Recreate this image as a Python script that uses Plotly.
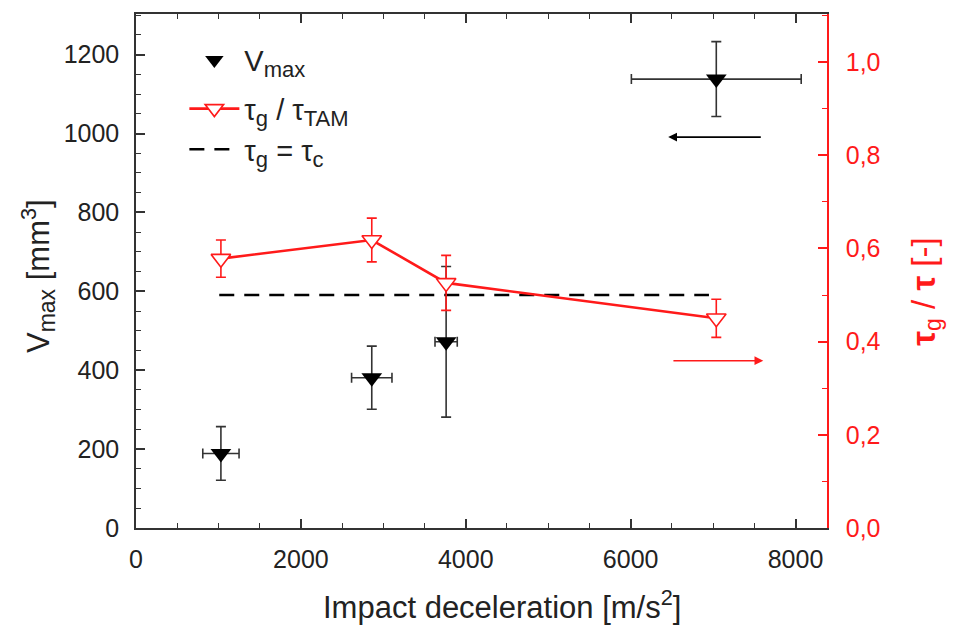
import plotly.graph_objects as go

# ---------------- data ----------------
accel = [1030, 2860, 3762, 7039]              # impact deceleration [m/s^2]
accel_err = [220, 245, 135, 1030]

vmax = [189, 381, 472, 1138]                  # V_max [mm^3]
vmax_err = [68, 80, 191, 95]

tau_ratio = [0.578, 0.618, 0.526, 0.450]      # tau_g / tau_TAM [-]
tau_ratio_err = [0.040, 0.047, 0.059, 0.041]

tau_c_x = [1010, 6950]                        # tau_g = tau_c reference line
tau_c_y = [0.5, 0.5]

x_ticks = [0, 2000, 4000, 6000, 8000]
y1_ticks = [0, 200, 400, 600, 800, 1000, 1200]
y2_ticks = [0.0, 0.2, 0.4, 0.6, 0.8, 1.0]

# arrows (tail -> head), in data units
arrow_black = dict(x_tail=7597, x_head=6456, y=991)
arrow_red = dict(x_tail=6501, x_head=7609, y=0.359)

FONT = "Liberation Sans, Arial, sans-serif"
RED = "#ff1a1a"
DARK = "#222222"


def sub(t, px=22):
    return f"<sub><span style='font-size:{px}px'>{t}</span></sub>"


fig = go.Figure()

fig.add_trace(go.Scatter(
    x=accel, y=vmax, mode="markers", name="V" + sub("max"),
    legendrank=1, legendgroup="a",
    marker=dict(symbol="triangle-down", size=18, color="black"),
    error_y=dict(type="data", array=vmax_err, color="#333333", thickness=1.6, width=5),
    error_x=dict(type="data", array=accel_err, color="#333333", thickness=1.6, width=5),
    yaxis="y",
))

fig.add_trace(go.Scatter(
    x=tau_c_x, y=tau_c_y, mode="lines", name="τ" + sub("g") + " = τ" + sub("c"),
    legendrank=3, legendgroup="b",
    line=dict(color="black", width=2.6, dash="15px,10px"),
    yaxis="y2",
))

fig.add_trace(go.Scatter(
    x=accel, y=tau_ratio, mode="lines+markers", name="τ" + sub("g") + " / τ" + sub("TAM"),
    legendrank=2, legendgroup="b",
    line=dict(color=RED, width=2.6),
    marker=dict(symbol="triangle-down", size=17, color="white",
                line=dict(color=RED, width=1.6)),
    error_y=dict(type="data", array=tau_ratio_err, color=RED, thickness=1.6, width=5),
    yaxis="y2",
))

fig.add_annotation(x=arrow_black["x_head"], y=arrow_black["y"], ax=arrow_black["x_tail"],
                   ay=arrow_black["y"], xref="x", yref="y", axref="x", ayref="y",
                   showarrow=True, arrowhead=2, arrowsize=1.1, arrowwidth=1.6,
                   arrowcolor="black", text="")
fig.add_annotation(x=arrow_red["x_head"], y=arrow_red["y"], ax=arrow_red["x_tail"],
                   ay=arrow_red["y"], xref="x", yref="y2", axref="x", ayref="y2",
                   showarrow=True, arrowhead=2, arrowsize=1.1, arrowwidth=1.6,
                   arrowcolor=RED, text="")

# axis titles as annotations (pixel-accurate placement)
fig.add_annotation(text="Impact deceleration [m/s<sup>2</sup>]", xref="paper", yref="paper",
                   x=0.53, y=-0.15, showarrow=False, yanchor="middle", xanchor="center",
                   font=dict(family=FONT, size=31, color=DARK))
fig.add_annotation(text="V" + sub("max", 23) + " [mm<sup>3</sup>]", xref="paper", yref="paper",
                   x=-0.142, y=0.49, showarrow=False, textangle=-90,
                   xanchor="center", yanchor="middle",
                   font=dict(family=FONT, size=31, color=DARK))
fig.add_annotation(text="<b>τ</b><sub>g</sub> / <b>τ</b> [-]", xref="paper", yref="paper",
                   x=1.142, y=0.46, showarrow=False, textangle=-90,
                   xanchor="center", yanchor="middle",
                   font=dict(family=FONT, size=33, color=RED))

fig.update_layout(
    width=976, height=626,
    margin=dict(l=136, r=149, t=12, b=98),
    paper_bgcolor="white", plot_bgcolor="white",
    separators=",.",
    font=dict(family=FONT, size=25, color=DARK),
    showlegend=True,
    legend=dict(x=0.07, y=0.96, xanchor="left", yanchor="top",
                bgcolor="rgba(0,0,0,0)", font=dict(family=FONT, size=29, color=DARK),
                traceorder="grouped", tracegroupgap=8, itemwidth=50),
    xaxis=dict(range=[0, 8382], tickvals=x_ticks, ticks="inside", ticklen=9, tickwidth=1.5,
               tickcolor="#333", showline=True, linecolor="#333", linewidth=1.5,
               mirror="ticks", showgrid=False, zeroline=False,
               minor=dict(dtick=500, ticks="inside", ticklen=5, tickcolor="#333", tickwidth=1.3),
               tickfont=dict(family=FONT, size=25, color=DARK), ticklabelstandoff=8),
    yaxis=dict(range=[0, 1303], tickvals=y1_ticks, ticks="inside", ticklen=9, tickwidth=1.5,
               tickcolor="#333", showline=True, linecolor="#333", linewidth=1.5,
               showgrid=False, zeroline=False,
               minor=dict(dtick=50, ticks="inside", ticklen=5, tickcolor="#333", tickwidth=1.3),
               tickfont=dict(family=FONT, size=25, color=DARK), ticklabelstandoff=10),
    yaxis2=dict(range=[0, 1.103], tickvals=y2_ticks, tickformat=".1f", overlaying="y",
                side="right", ticks="inside", ticklen=9, tickwidth=1.5, tickcolor=RED,
                showline=True, linecolor=RED, linewidth=1.5, showgrid=False, zeroline=False,
                minor=dict(dtick=0.1, ticks="inside", ticklen=5, tickcolor=RED, tickwidth=1.3),
                tickfont=dict(family=FONT, size=25, color=RED), ticklabelstandoff=12),
)

fig.write_html("out.html", config={"displayModeBar": False},
               post_script="document.body.style.margin='0px';")
